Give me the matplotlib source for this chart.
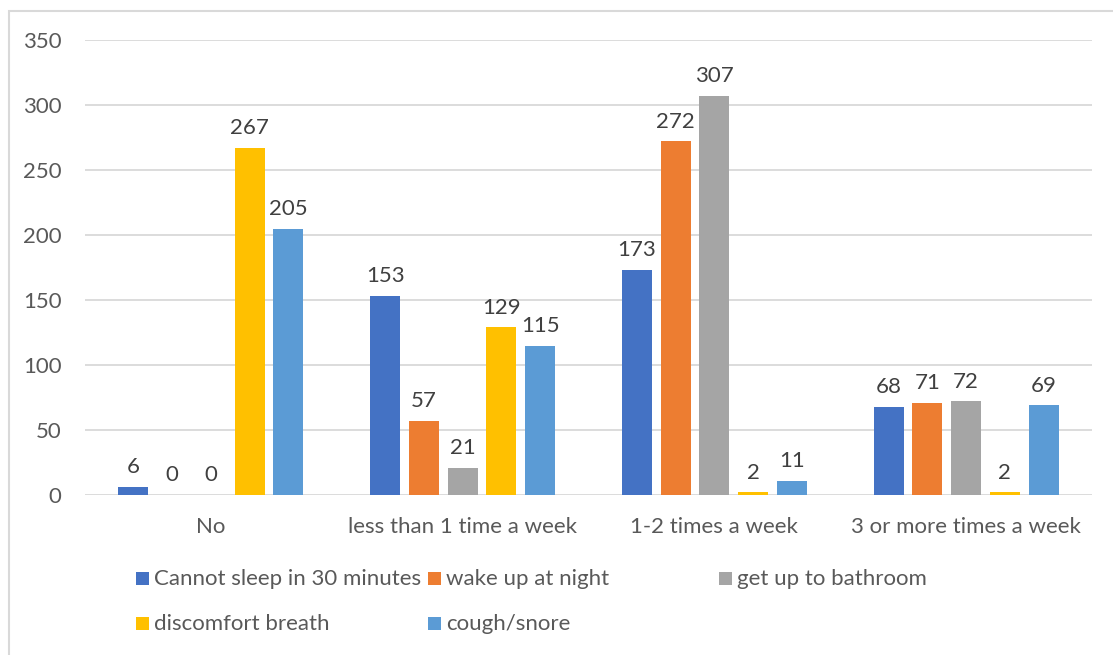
import numpy as np
import matplotlib.pyplot as plt
from matplotlib.patches import Rectangle

plt.rcParams['font.family'] = ['Lato', 'DejaVu Sans']

categories = ["No", "less than 1 time a week", "1-2 times a week", "3 or more times a week"]
series_names = ["Cannot sleep in 30 minutes", "wake up at night", "get up to bathroom",
                "discomfort breath", "cough/snore"]
cannot_sleep = [6, 153, 173, 68]
wake_up = [0, 57, 272, 71]
bathroom = [0, 21, 307, 72]
breath = [267, 129, 2, 2]
cough = [205, 115, 11, 69]
series_values = [cannot_sleep, wake_up, bathroom, breath, cough]
colors = ["#4472C4", "#ED7D31", "#A5A5A5", "#FFC000", "#5B9BD5"]
text_color = "#595959"
label_color = "#404040"

W, H = 1113, 655
fig = plt.figure(figsize=(W / 100, H / 100), dpi=100)
ax = fig.add_axes([85 / W, 1 - 495 / H, (1092 - 85) / W, (495 - 40) / H])

# outer chart frame (only left and top edges fall inside the image)
fig.add_artist(Rectangle((8.5 / W, -0.1), 1.2, 1.1 - 10.5 / H, transform=fig.transFigure,
                         fill=False, edgecolor="#D9D9D9", linewidth=1.5))

x = np.arange(len(categories))
slot = 0.154
bar_w = 0.119
for i, (vals, col) in enumerate(zip(series_values, colors)):
    pos = x + (i - 2) * slot
    bars = ax.bar(pos, vals, width=bar_w, color=col, zorder=3)
    for b, v in zip(bars, vals):
        ax.annotate(str(v), (b.get_x() + b.get_width() / 2, v), xytext=(0, 7),
                    textcoords="offset points", ha="center", va="bottom",
                    fontsize=16, color=label_color)

ax.set_xlim(-0.5, 3.5)
ax.set_ylim(0, 350)
ax.set_yticks(range(0, 351, 50))
ax.set_xticks(x)
ax.set_xticklabels(categories)
ax.yaxis.grid(True, color="#D9D9D9", linewidth=1.3, zorder=0)
ax.set_axisbelow(True)
for s in ax.spines.values():
    s.set_visible(False)
ax.tick_params(length=0, labelsize=16, colors=text_color)
ax.tick_params(axis="x", pad=16)
ax.tick_params(axis="y", pad=17)

# legend laid out in fixed-width columns
col_x = [136, 428, 719]
slots = [(col_x[0], 579), (col_x[1], 579), (col_x[2], 579), (col_x[0], 624), (col_x[1], 624)]
for (lx, ly), name, col in zip(slots, series_names, colors):
    fig.add_artist(Rectangle((lx / W, 1 - (ly + 6) / H), 13 / W, 13 / H,
                             transform=fig.transFigure, facecolor=col, edgecolor="none"))
    fig.text((lx + 18) / W, 1 - ly / H, name, fontsize=16, color=text_color,
             ha="left", va="center")

fig.savefig("out.png", dpi=100, facecolor="white")
